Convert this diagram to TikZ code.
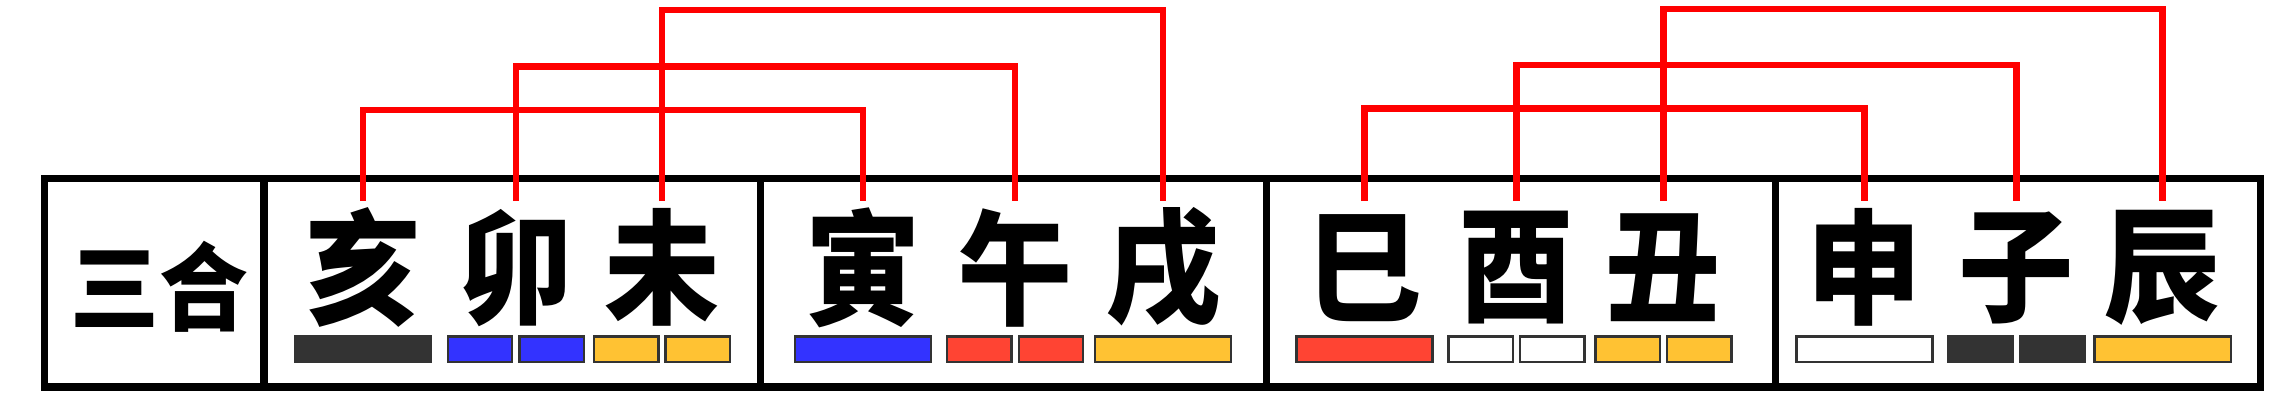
\documentclass[tikz,border=0pt]{standalone}
\usepackage{fontspec}
\newfontfamily\cjk{Noto Sans CJK TC}[FakeStretch = 0.93]
\usetikzlibrary{calc}
\definecolor{barblack}{HTML}{333333}
\definecolor{barblue}{HTML}{3333FF}
\definecolor{barred}{HTML}{FF4433}
\definecolor{baryellow}{HTML}{FFC233}

\begin{document}
\begin{tikzpicture}
 [
  x=0.025cm, y=-0.025cm,
  frame/.style = {draw, line width = 0.125cm},
  zhi/.style   = {inner sep = 0pt, font = \cjk\bfseries\fontsize{61}{61}\selectfont},
  link/.style  = {draw, red, line width = 0.11cm},
  bar/.style   = {draw = barblack, line width = 0.04cm},
 ]
 \useasboundingbox (0,0) rectangle (1568,284);

 % the table
 \draw[frame] (31,123.5) rectangle (1562,267.5);
 \foreach \x in {182.5, 525.5, 875, 1227}
  \draw[frame] (\x,123.5) -- (\x,267.5);

 % the branches
 \node (sanhe) at (110,198) [zhi, font = \cjk\bfseries\fontsize{47}{47}\selectfont] {三合};
 \node (hai)  at (251,185)    [zhi] {亥};
 \node (mao)  at (356.5,185)  [zhi] {卯};
 \node (wei)  at (457.5,185)  [zhi] {未};
 \node (yin)  at (596.5,185)  [zhi] {寅};
 \node (wu)   at (701.5,185)  [zhi] {午};
 \node (xu)   at (803.5,185)  [zhi] {戌};
 \node (si)   at (943,185)    [zhi] {巳};
 \node (you)  at (1048,185)   [zhi] {酉};
 \node (chou) at (1149.5,185) [zhi] {丑};
 \node (shen) at (1288.5,185) [zhi] {申};
 \node (zi)   at (1393.5,185) [zhi] {子};
 \node (chen) at (1494.5,185) [zhi] {辰};

 % the bars
 \foreach \n/\c in {hai/barblack, yin/barblue, xu/baryellow, si/barred, shen/white, chen/baryellow}
  \draw[bar, fill = \c] ($(\n |- 0,232.5)+(-47,0)$) rectangle ++(94,17.5);
 \foreach \n/\c in {mao/barblue, wei/baryellow, wu/barred, you/white, chou/baryellow, zi/barblack}
 {
  \draw[bar, fill = \c] ($(\n |- 0,232.5)+(-47,0)$) rectangle ++(44.5,17.5);
  \draw[bar, fill = \c] ($(\n |- 0,232.5)+(2.5,0)$) rectangle ++(44.5,17.5);
 }

 % the links
 \draw[link] (hai |- 0,139) |- (yin |- 0,76) -- (yin |- 0,139);
 \draw[link] (mao |- 0,139) |- (wu |- 0,46) -- (wu |- 0,139);
 \draw[link] (wei |- 0,139) |- (xu |- 0,7) -- (xu |- 0,139);

 \draw[link] (si |- 0,139) |- (shen |- 0,75) -- (shen |- 0,139);
 \draw[link] (you |- 0,139) |- (zi |- 0,45) -- (zi |- 0,139);
 \draw[link] (chou |- 0,139) |- (chen |- 0,6) -- (chen |- 0,139);
\end{tikzpicture}
\end{document}
